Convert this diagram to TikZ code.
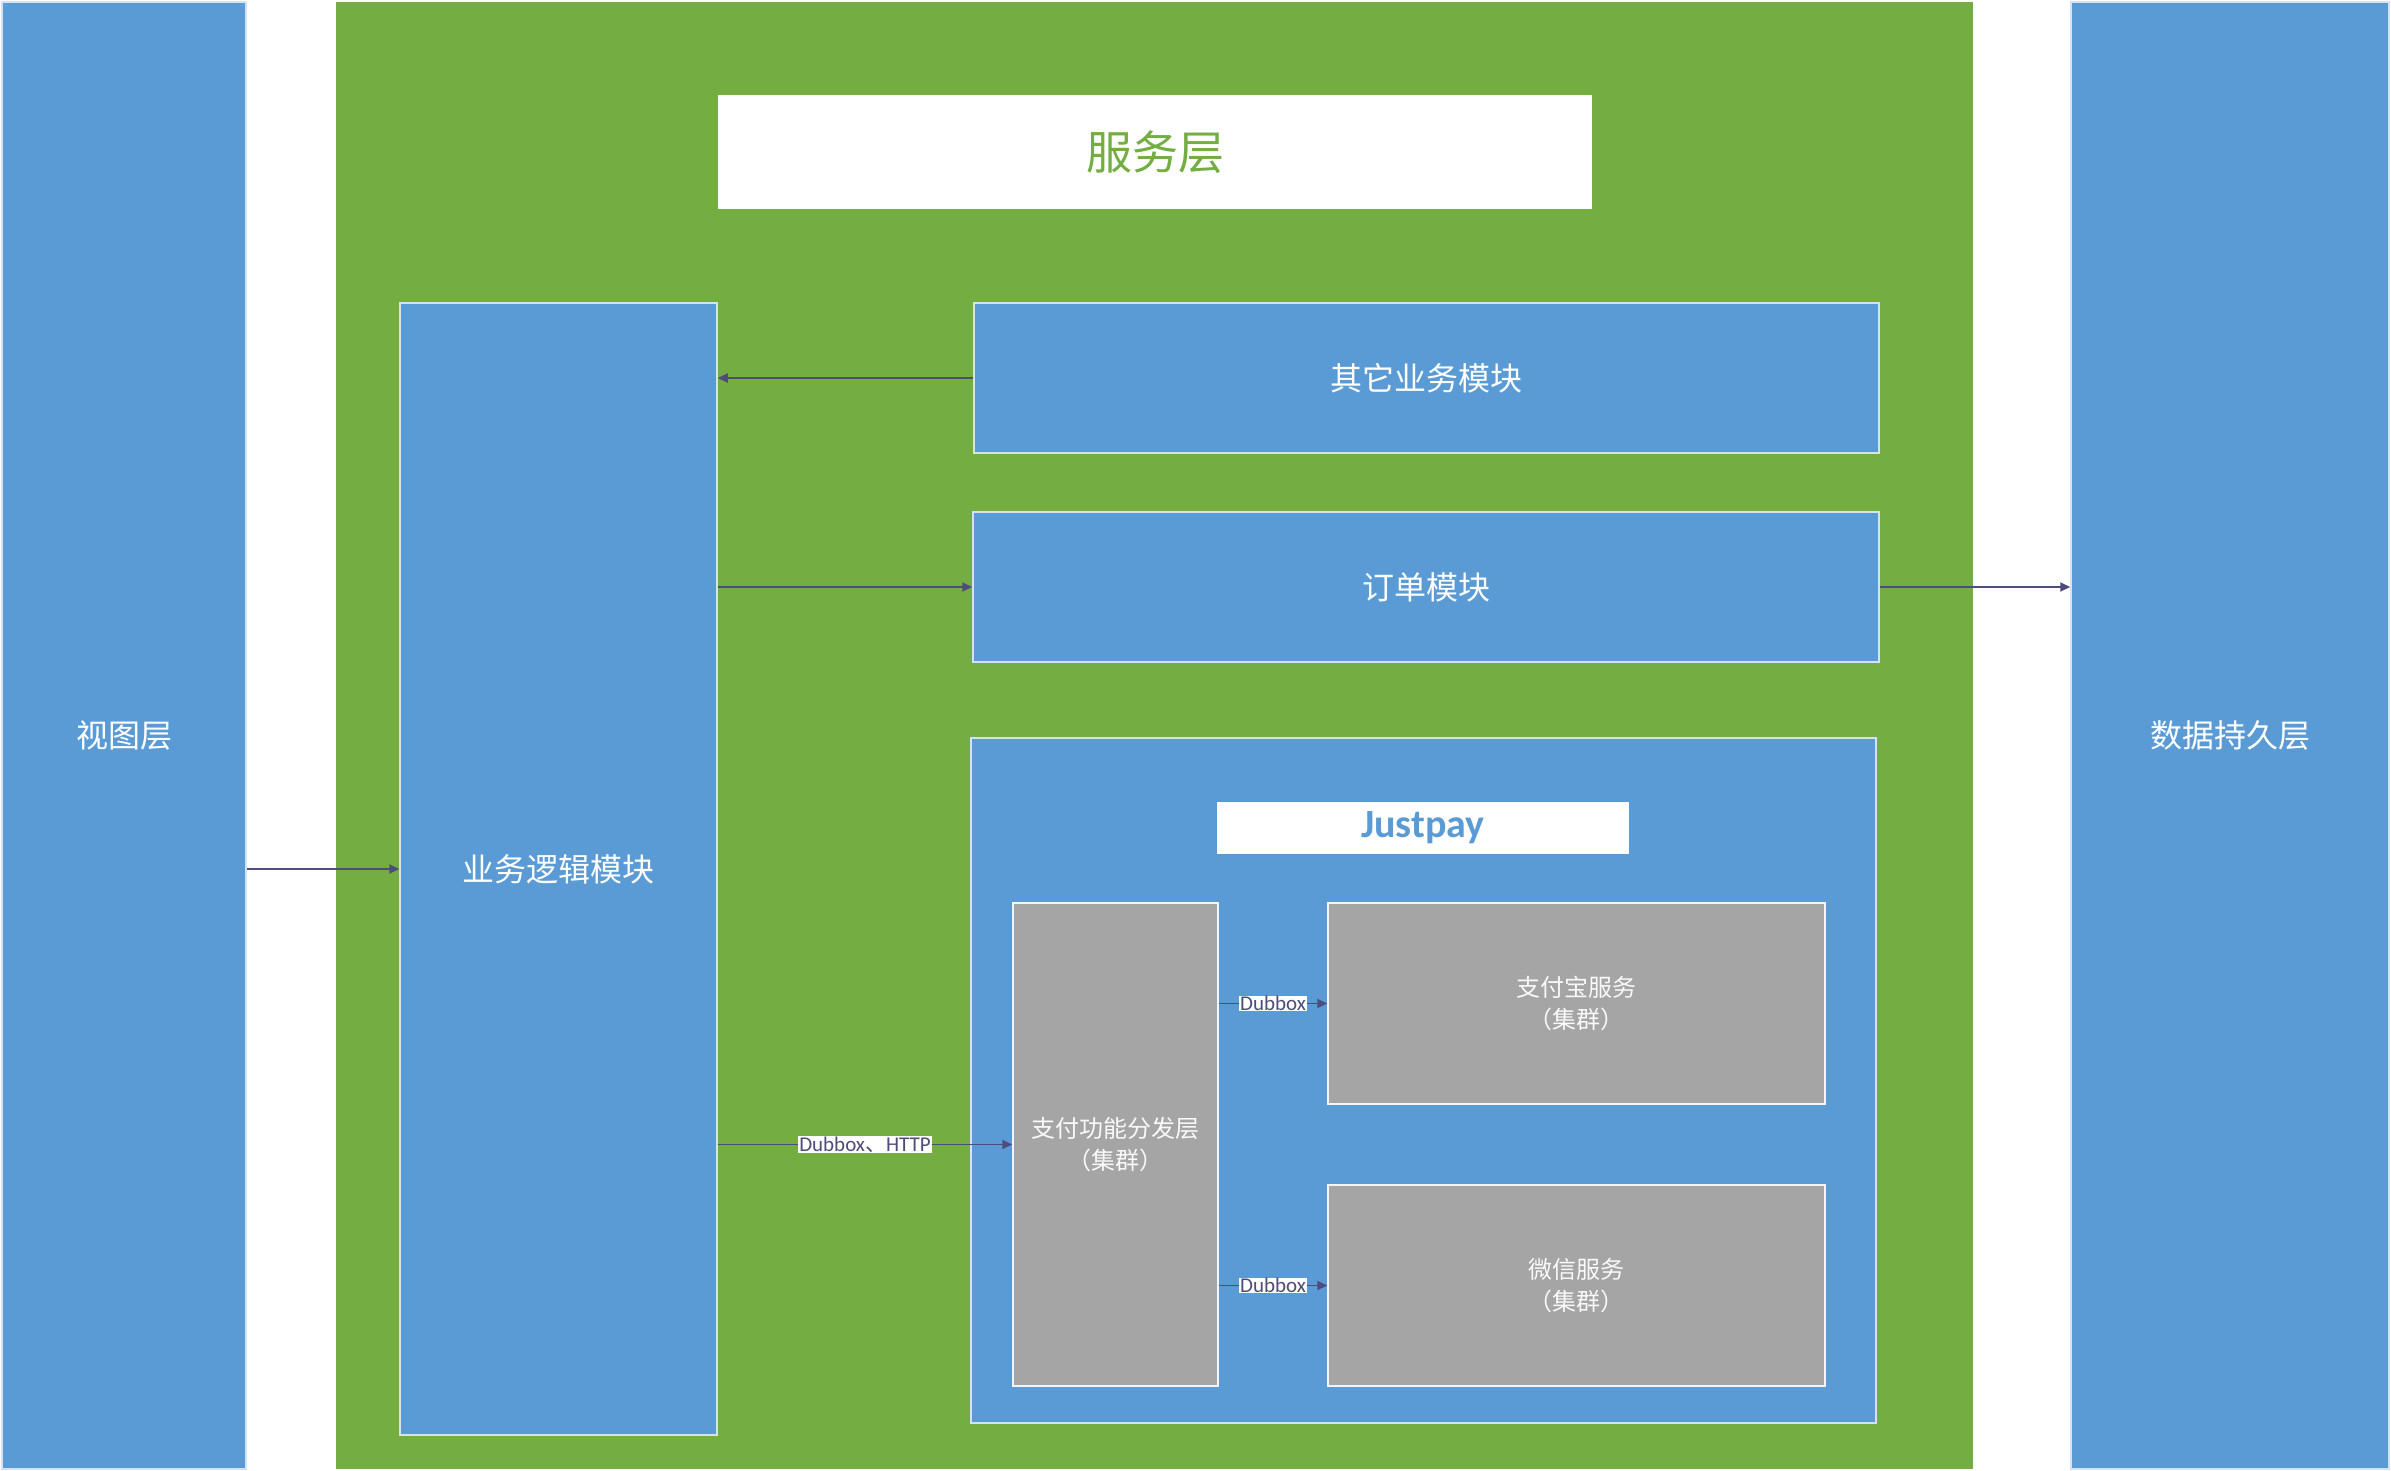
\documentclass[tikz,border=0pt]{standalone}
\usepackage{fontspec}
\setmainfont{Noto Sans CJK SC}
\newfontfamily\cjk{Noto Sans CJK SC}
\newfontfamily\latinfont{Carlito}
\usetikzlibrary{arrows.meta}
\definecolor{layerblue}{RGB}{91,155,213}
\definecolor{layergreen}{RGB}{116,174,67}
\definecolor{clustergray}{RGB}{165,165,165}
\definecolor{linkcol}{RGB}{78,76,122}
\definecolor{edgecol}{RGB}{214,226,240}

\begin{document}
\begin{tikzpicture}[x=1pt,y=-1pt,
	layer/.style={ rectangle, fill=layerblue, draw=edgecol, line width=1.5pt, inner sep=0pt, text=white, font=\fontsize{32}{40}\selectfont },
	service/.style={ rectangle, fill=layergreen, inner sep=0pt },
	titlebox/.style={ rectangle, fill=white, inner sep=0pt, text=layergreen, font=\fontsize{46}{52}\selectfont },
	payzone/.style={ rectangle, fill=layerblue, draw=edgecol, line width=1.5pt, inner sep=0pt },
	paytitle/.style={ rectangle, fill=white, inner sep=0pt, text=layerblue, font=\latinfont\bfseries\fontsize{40}{44}\selectfont },
	cluster/.style={ rectangle, fill=clustergray, draw=white!92!gray, line width=1.5pt, inner sep=0pt, align=center, text=white!95!gray, font=\fontsize{24}{32}\selectfont },
	link/.style={ draw=linkcol, line width=1.8pt, -{Triangle[length=10pt,width=9pt]} },
	proto/.style={ rectangle, fill=white, inner xsep=1pt, inner ysep=0.5pt, text=linkcol, font=\latinfont\fontsize{21}{24}\selectfont }
]

\useasboundingbox (0,0) rectangle (2391,1471);

\node at (1154.5,735.5) (srv) [service,minimum width=1637,minimum height=1467] {};
\node at (124,735.5) (view) [layer,minimum width=244,minimum height=1467] {视图层};
\node at (2230,735.5) (data) [layer,minimum width=318,minimum height=1467] {数据持久层};
\node at (1155,152) (srvtitle) [titlebox,minimum width=874,minimum height=114] {服务层};

\node at (558.5,869) (logic) [layer,minimum width=317,minimum height=1132] {业务逻辑模块};
\node at (1426.5,378) (other) [layer,minimum width=905,minimum height=150] {其它业务模块};
\node at (1426,587) (order) [layer,minimum width=906,minimum height=150] {订单模块};

\node at (1423.5,1080.5) (justpay) [payzone,minimum width=905,minimum height=685] {};
\node at (1423,828) (jptitle) [paytitle,minimum width=412,minimum height=52] {Justpay};
\node at (1115.5,1144.5) (dispatch) [cluster,minimum width=205,minimum height=483] {支付功能分发层\\（集群）};
\node at (1576.5,1003.5) (alipay) [cluster,minimum width=497,minimum height=201] {支付宝服务\\（集群）};
\node at (1576.5,1285.5) (wechat) [cluster,minimum width=497,minimum height=201] {微信服务\\（集群）};

\draw[link] (view.east |- logic.west) to (logic.west);
\draw[link] (other.west) to (other.west -| logic.east);
\draw[link] (logic.east |- order.west) to (order.west);
\draw[link] (order.east) to (order.east -| data.west);
\draw[link] (logic.east |- dispatch.west) to node[proto] {Dubbox{\cjk 、}HTTP} (dispatch.west);
\draw[link] (dispatch.east |- alipay.west) to node[proto] {Dubbox} (alipay.west);
\draw[link] (dispatch.east |- wechat.west) to node[proto] {Dubbox} (wechat.west);

\end{tikzpicture}
\end{document}
